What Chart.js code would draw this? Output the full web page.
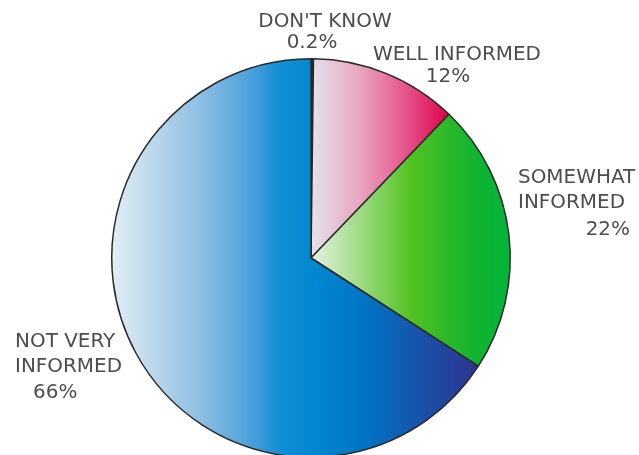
<!DOCTYPE html>
<html>
<head>
<meta charset="utf-8">
<script src="https://cdn.jsdelivr.net/npm/chart.js@4.4.0/dist/chart.umd.min.js"></script>
<style>
  html, body { margin: 0; padding: 0; background: #fff; overflow: hidden; }
  #wrap { width: 639px; height: 460px; position: relative; }
</style>
</head>
<body>
<div id="wrap"><canvas id="pie"></canvas></div>
<script>
const categories = ["DON'T KNOW", 'WELL INFORMED', 'SOMEWHAT INFORMED', 'NOT VERY INFORMED'];
const values = [0.2, 12, 22, 66];
const valueLabels = ['0.2%', '12%', '22%', '66%'];

// gradient stops for each slice, left to right across the slice
const gradients = [
  [[0, '#2a2a2a'], [1, '#2a2a2a']],
  [[0, '#e4e2ec'], [0.35, '#e8a6c0'], [0.7, '#e6508a'], [1, '#de0048']],
  [[0, '#e8f2e2'], [0.5, '#52c222'], [0.8, '#14b42e'], [1, '#00b43a']],
  [[0, '#e2eef6'], [0.25, '#8cbde2'], [0.4, '#3f9cda'], [0.45, '#1690d6'], [0.55, '#0088d0'], [0.7, '#0072c2'], [0.85, '#1b50a8'], [1, '#2c3490']]
];

function sliceFill(context) {
  const chart = context.chart;
  const area = chart.chartArea;
  const i = context.dataIndex;
  if (!area) return gradients[i][0][1];
  const cx = (area.left + area.right) / 2;
  const r = Math.min(area.right - area.left, area.bottom - area.top) / 2;
  const total = values.reduce((s, v) => s + v, 0);
  let before = 0;
  for (let k = 0; k < i; k++) before += values[k];
  const a0 = -Math.PI / 2 + 2 * Math.PI * before / total;
  const a1 = a0 + 2 * Math.PI * values[i] / total;
  // horizontal extent of the slice
  const xs = [cx, cx + r * Math.cos(a1)];
  for (let a = a0; a <= a1; a += 0.005) xs.push(cx + r * Math.cos(a));
  let x0 = Math.min(...xs), x1 = Math.max(...xs);
  if (x1 - x0 < 1) x1 = x0 + 1;
  const g = chart.ctx.createLinearGradient(x0, 0, x1, 0);
  gradients[i].forEach(s => g.addColorStop(s[0], s[1]));
  return g;
}

// label lines: text, x, y, align
const labelLines = [
  [categories[0], 325, 22, 'center'], [valueLabels[0], 312, 43, 'center'],
  ['WELL INFORMED', 457, 55, 'center'], [valueLabels[1], 448, 77, 'center'],
  ['SOMEWHAT', 518, 178, 'left'], ['INFORMED', 518, 203, 'left'], [valueLabels[2], 630, 230, 'right'],
  ['NOT VERY', 15, 342, 'left'], ['INFORMED', 15, 367, 'left'], [valueLabels[3], 33, 393, 'left']
];

const labelPlugin = {
  id: 'sliceLabels',
  afterDraw(chart) {
    const ctx = chart.ctx;
    const sx = 1.05;
    ctx.save();
    ctx.font = '19px "DejaVu Sans", Verdana, sans-serif';
    ctx.fillStyle = '#4d4d4d';
    ctx.textBaseline = 'middle';
    labelLines.forEach(line => {
      ctx.save();
      ctx.translate(line[1], line[2]);
      ctx.scale(sx, 1);
      ctx.textAlign = line[3];
      ctx.fillText(line[0], 0, 0);
      ctx.restore();
    });
    ctx.restore();
  }
};

new Chart(document.getElementById('pie'), {
  type: 'pie',
  data: {
    labels: categories,
    datasets: [{
      data: values,
      backgroundColor: sliceFill,
      borderColor: '#2a2a2a',
      borderWidth: 1.5
    }]
  },
  options: {
    responsive: true,
    maintainAspectRatio: false,
    animation: false,
    layout: { padding: { top: 58, bottom: 2, left: 111, right: 128 } },
    plugins: {
      legend: { display: false },
      tooltip: { enabled: false }
    }
  },
  plugins: [labelPlugin]
});
</script>
</body>
</html>
